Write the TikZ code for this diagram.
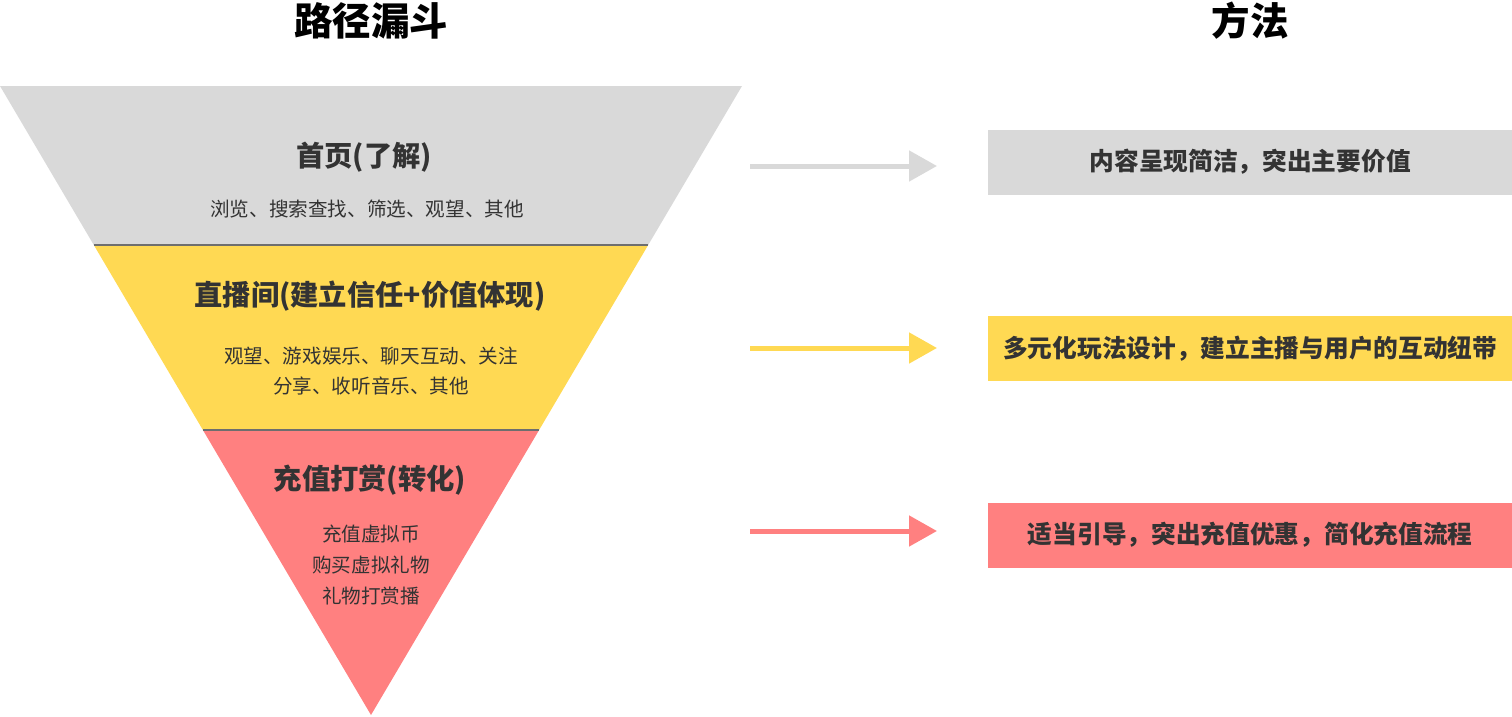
\documentclass[tikz,border=0pt]{standalone}
\usepackage{fontspec}
\setmainfont{Noto Sans CJK SC}
\usetikzlibrary{arrows.meta}
\definecolor{funnelgray}{HTML}{D9D9D9}
\definecolor{funnelyellow}{HTML}{FFD953}
\definecolor{funnelred}{HTML}{FF8080}
\definecolor{textdark}{HTML}{333333}
\definecolor{linegray}{HTML}{6E6E6E}
\tikzset{
	headline/.style={font=\fontsize{38.5}{42}\selectfont\bfseries,text=black},
	bandtitle/.style={font=\fontsize{28.3}{32}\selectfont\bfseries,text=textdark},
	bandtext/.style={font=\fontsize{19.6}{30.8}\selectfont,text=textdark,align=center},
	methodbox/.style={font=\fontsize{24.7}{28}\selectfont\bfseries,text=textdark,minimum width=524,minimum height=65,inner sep=0,anchor=west},
	flowarrow/.style={line width=5pt,-{Triangle[length=28pt,width=30pt]},shorten >=51pt},
}
\begin{document}
\begin{tikzpicture}[x=1pt,y=-1pt]
				\useasboundingbox (0,0) rectangle (1512,717);
				\coordinate (L) at (0,86);
				\coordinate (R) at (742,86);
				\coordinate (V) at (371,715);
				\coordinate (G1) at (93.8,245);
				\coordinate (G2) at (648.2,245);
				\coordinate (Y1) at (202.9,430);
				\coordinate (Y2) at (539.1,430);
				\fill[funnelgray] (L) -- (R) -- (G2) -- (G1) -- cycle;
				\fill[funnelyellow] (G1) -- (G2) -- (Y2) -- (Y1) -- cycle;
				\fill[funnelred] (Y1) -- (Y2) -- (V) -- cycle;
				\draw[line width=1.5pt,draw=linegray] (G1) -- (G2);
				\draw[line width=1.5pt,draw=linegray] (Y1) -- (Y2);
				\node[headline] (funneltitle) at (371,21) {路径漏斗};
				\node[headline] (methodtitle) at (1250,21) {方法};
				\node[bandtitle] (home) at (364,157) {首页(了解)};
				\node[bandtitle] (live) at (370,296) {直播间(建立信任+价值体现)};
				\node[bandtitle] (pay) at (370,480) {充值打赏(转化)};
				\node[bandtext] (homesub) at (367,209) {浏览、搜索查找、筛选、观望、其他};
				\node[bandtext] (livesub) at (371,371) {观望、游戏娱乐、聊天互动、关注\\分享、收听音乐、其他};
				\node[bandtext] (paysub) at (371,565) {充值虚拟币\\购买虚拟礼物\\礼物打赏播};
				\node[methodbox,fill=funnelgray] (m1) at (988,162) {内容呈现简洁，突出主要价值};
				\node[methodbox,fill=funnelyellow] (m2) at (988,348.5) {多元化玩法设计，建立主播与用户的互动纽带};
				\node[methodbox,fill=funnelred] (m3) at (988,535) {适当引导，突出充值优惠，简化充值流程};
				\coordinate (a1) at (750,166);
				\coordinate (a2) at (750,348);
				\coordinate (a3) at (750,531);
				\draw[flowarrow,draw=funnelgray] (a1) -- (a1 -| m1.west);
				\draw[flowarrow,draw=funnelyellow] (a2) -- (a2 -| m2.west);
				\draw[flowarrow,draw=funnelred] (a3) -- (a3 -| m3.west);
\end{tikzpicture}
\end{document}
